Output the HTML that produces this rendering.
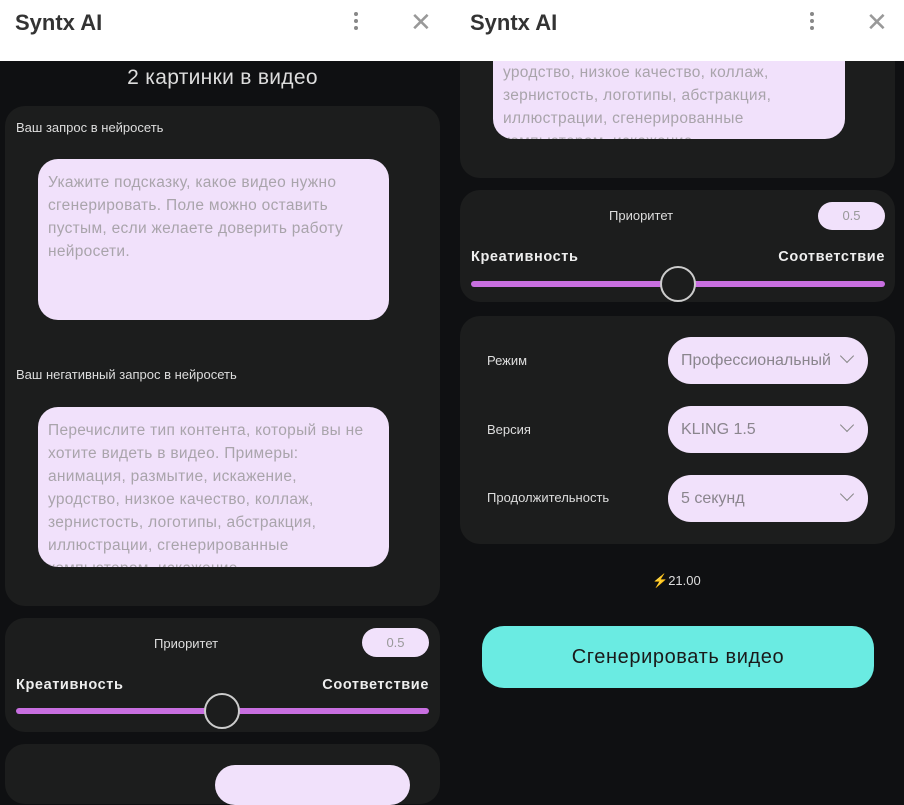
<!DOCTYPE html>
<html><head><meta charset="utf-8"><style>
*{margin:0;padding:0;box-sizing:border-box}
body{width:904px;height:776px;overflow:hidden;background:#0f1012;font-family:"Liberation Sans",sans-serif;position:relative}
.a{position:absolute}
.hdr{left:0;top:0;width:904px;height:61px;background:#fff}
.logo{font-size:22px;font-weight:bold;color:#333;top:10px}
.dots{width:4px;top:12px}
.dots i{display:block;width:4px;height:4px;border-radius:2px;background:#888;margin-bottom:3px}
.x{font-size:26px;color:#999;top:7px;font-weight:300}
.panel{background:#1c1d1d;border-radius:20px}
.lbl{color:#ddd;font-size:13px}
.ta{background:#f1e1fb;border-radius:20px;overflow:hidden;color:#a9a4ab;font-size:15.5px;line-height:23px;padding:12px 10px 0 10px;white-space:nowrap;letter-spacing:0.3px}
.pill{background:#f1e1fb;border-radius:15px;color:#999;font-size:13px;text-align:center}
.bold{color:#eee;font-size:14.5px;font-weight:bold;letter-spacing:0.6px}
.track{height:6px;border-radius:3px;background:#c86fe0}
.thumb{width:36px;height:36px;border-radius:50%;border:2px solid #ccc;background:#1c1d1d}
.sel{background:#f1e1fb;border-radius:23px;height:47px;width:200px;color:#8a858d;font-size:16px;line-height:47px;padding-left:13px;overflow:hidden;white-space:nowrap}
.chev{position:absolute;right:16px;top:14px;width:10px;height:10px;border-right:1.5px solid #888;border-bottom:1.5px solid #888;transform:rotate(45deg)}
.sel span{display:inline-block;width:150px;overflow:hidden}
</style></head><body>
<div class="a hdr"></div>
<div class="a logo" style="left:15px">Syntx AI</div>
<div class="a dots" style="left:354px"><i></i><i></i><i></i></div>
<div class="a x" style="left:410px">✕</div>
<div class="a logo" style="left:470px">Syntx AI</div>
<div class="a dots" style="left:810px"><i></i><i></i><i></i></div>
<div class="a x" style="left:866px">✕</div>

<!-- left column -->
<div class="a" style="left:0;top:66px;width:445px;text-align:center;color:#ddd;font-size:21px;letter-spacing:0.3px">2 картинки в видео</div>
<div class="a panel" style="left:5px;top:106px;width:435px;height:500px"></div>
<div class="a lbl" style="left:16px;top:120px">Ваш запрос в нейросеть</div>
<div class="a ta" style="left:38px;top:159px;width:351px;height:161px">Укажите подсказку, какое видео нужно<br>сгенерировать. Поле можно оставить<br>пустым, если желаете доверить работу<br>нейросети.</div>
<div class="a lbl" style="left:16px;top:367px">Ваш негативный запрос в нейросеть</div>
<div class="a ta" style="left:38px;top:407px;width:351px;height:160px">Перечислите тип контента, который вы не<br>хотите видеть в видео. Примеры:<br>анимация, размытие, искажение,<br>уродство, низкое качество, коллаж,<br>зернистость, логотипы, абстракция,<br>иллюстрации, сгенерированные<br>компьютером, искажение</div>

<div class="a panel" style="left:5px;top:618px;width:435px;height:114px"></div>
<div class="a lbl" style="left:154px;top:636px">Приоритет</div>
<div class="a pill" style="left:362px;top:628px;width:67px;height:29px;line-height:29px">0.5</div>
<div class="a bold" style="left:16px;top:677px">Креативность</div>
<div class="a bold" style="right:475px;top:677px">Соответствие</div>
<div class="a track" style="left:16px;top:708px;width:413px"></div>
<div class="a thumb" style="left:204px;top:693px"></div>
<div class="a panel" style="left:5px;top:744px;width:435px;height:60px"></div>
<div class="a" style="left:215px;top:765px;width:195px;height:40px;border-radius:20px;background:#f1e1fb"></div>

<!-- right column -->
<div class="a panel" style="left:460px;top:40px;width:435px;height:138px"></div>
<div class="a ta" style="left:493px;top:40px;width:352px;height:99px;padding-top:21px">уродство, низкое качество, коллаж,<br>зернистость, логотипы, абстракция,<br>иллюстрации, сгенерированные<br>компьютером, искажение</div>
<div class="a" style="left:452px;top:40px;width:452px;height:21px;background:#fff"></div>

<div class="a panel" style="left:460px;top:190px;width:435px;height:112px"></div>
<div class="a lbl" style="left:609px;top:208px">Приоритет</div>
<div class="a pill" style="left:818px;top:202px;width:67px;height:28px;line-height:28px">0.5</div>
<div class="a bold" style="left:471px;top:249px">Креативность</div>
<div class="a bold" style="right:19px;top:249px">Соответствие</div>
<div class="a track" style="left:471px;top:281px;width:414px"></div>
<div class="a thumb" style="left:660px;top:266px"></div>

<div class="a panel" style="left:460px;top:316px;width:435px;height:228px"></div>
<div class="a lbl" style="left:487px;top:353px">Режим</div>
<div class="a lbl" style="left:487px;top:422px">Версия</div>
<div class="a lbl" style="left:487px;top:490px">Продолжительность</div>
<div class="a sel" style="left:668px;top:337px"><span>Профессиональный</span><i class="chev"></i></div>
<div class="a sel" style="left:668px;top:406px">KLING 1.5<i class="chev"></i></div>
<div class="a sel" style="left:668px;top:475px">5 секунд<i class="chev"></i></div>

<div class="a" style="left:652px;top:573px;color:#ddd;font-size:13px"><span style="color:#f2b01e">⚡</span>21.00</div>
<div class="a" style="left:482px;top:626px;width:392px;height:62px;border-radius:22px;background:#6aebe2;color:#1a1a1a;font-size:20px;letter-spacing:0.6px;line-height:62px;text-align:center">Сгенерировать видео</div>
</body></html>
